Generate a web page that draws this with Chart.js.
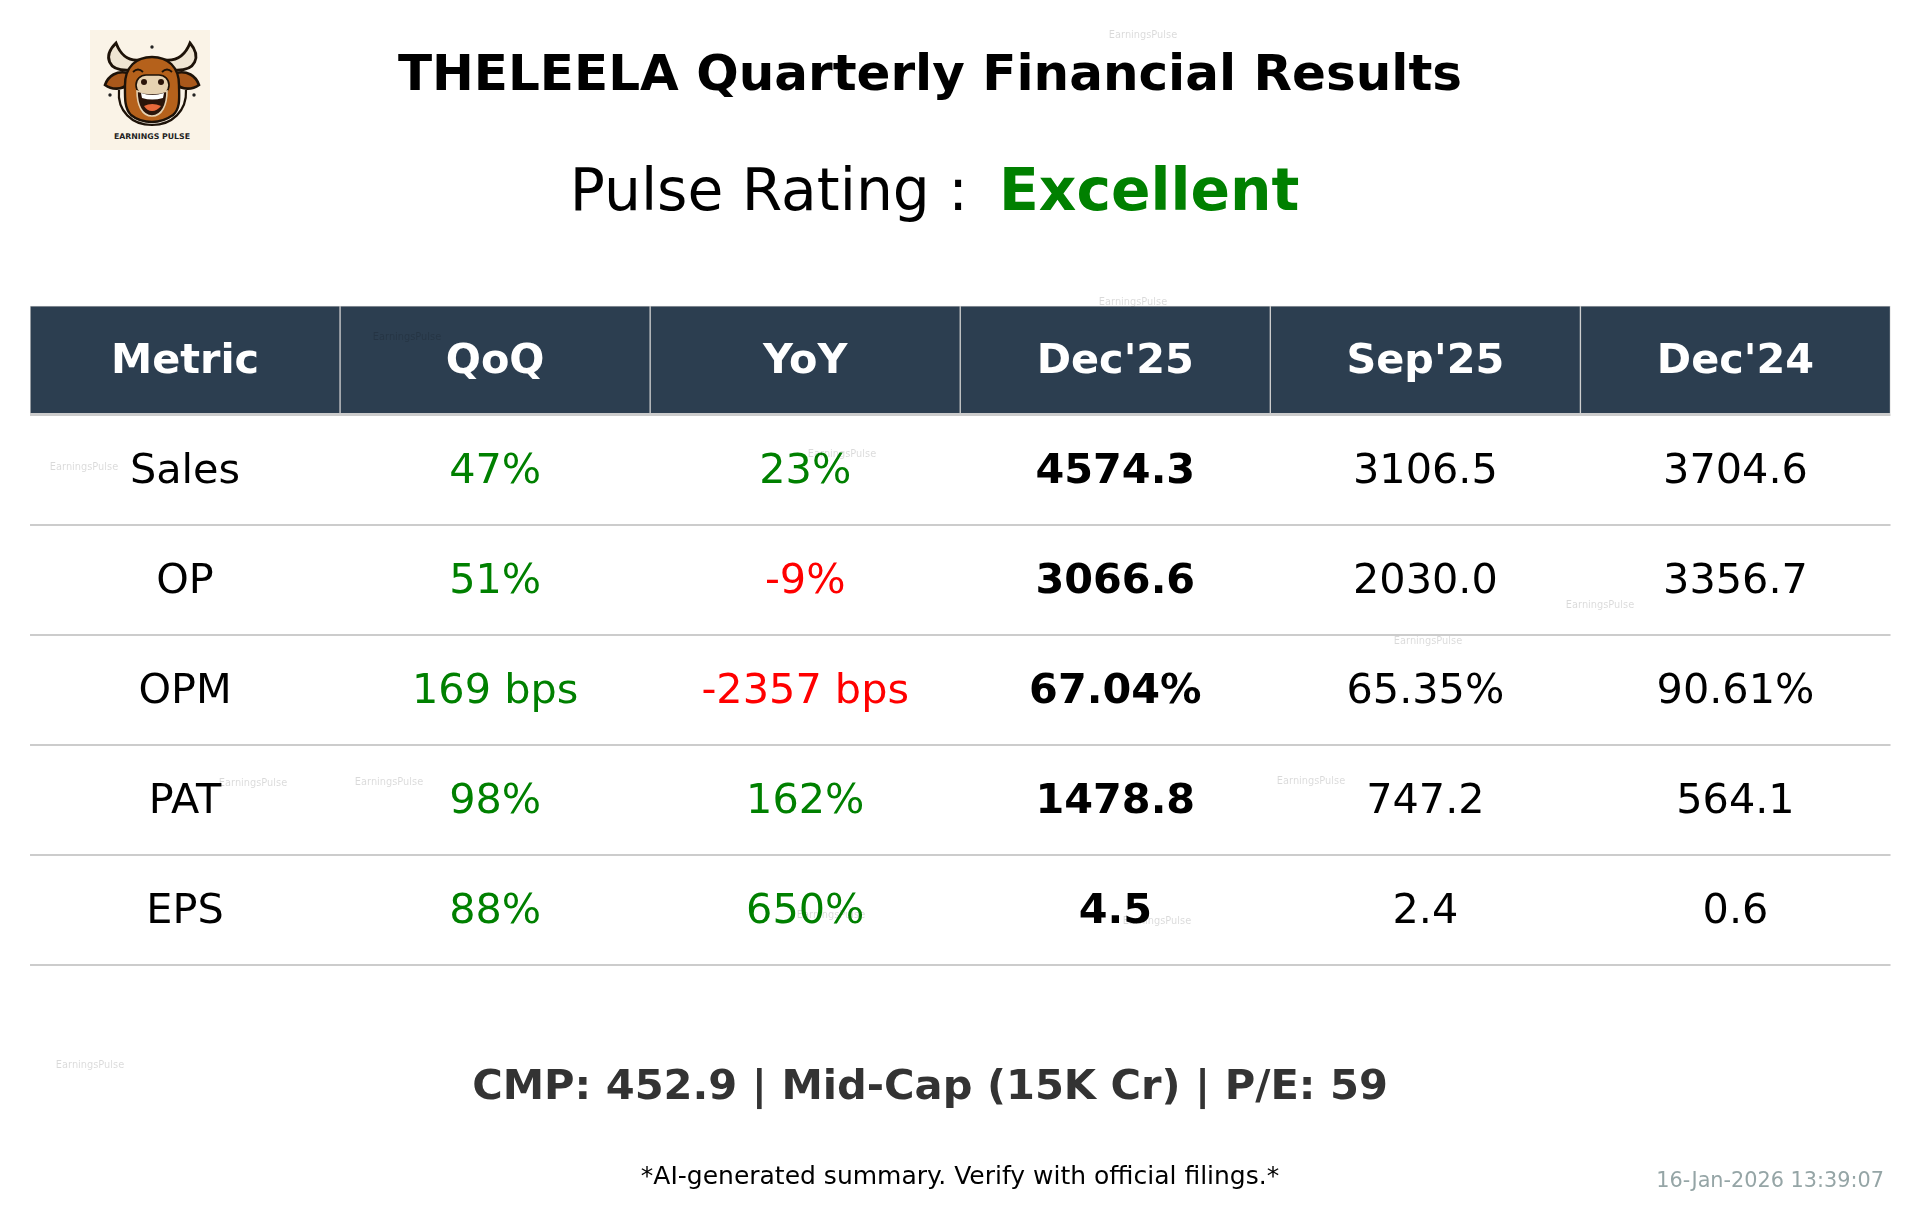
<!DOCTYPE html>
<html lang="en">
<head>
  <meta charset="UTF-8">
  <title>THELEELA Quarterly Financial Results</title>
  <script src="https://cdn.jsdelivr.net/npm/chart.js"></script>
  <style>
    html, body { margin: 0; background: #fff; }
    #wrap { position: relative; width: 1919px; height: 1222px; overflow: hidden; }
    #logo { position: absolute; left: 90px; top: 30px; width: 120px; height: 120px; }
  </style>
</head>
<body>

<div id="wrap">
  <canvas id="tabela" width="1919" height="1222"></canvas>
  <svg id="logo" viewBox="0 0 120 120">
    <rect width="120" height="120" fill="#faf3e7"/>
    <circle cx="62" cy="17" r="1.7" fill="#222"/>
    <circle cx="20" cy="65" r="1.7" fill="#222"/>
    <circle cx="104" cy="65" r="1.7" fill="#222"/>
    <path d="M26 13 C13 26 17 42 41 40 L49 30 C38 31 31 26 26 13Z" fill="#efe5d3" stroke="#1d1208" stroke-width="2.8"/>
    <path d="M100 13 C111 26 107 42 83 40 L75 30 C86 31 95 26 100 13Z" fill="#efe5d3" stroke="#1d1208" stroke-width="2.8"/>
    <path d="M38 43 C27 40 18 46 15 55 C22 60 32 60 38 54Z" fill="#a9581b" stroke="#1d1208" stroke-width="2.6"/>
    <path d="M86 43 C97 40 106 46 109 55 C102 60 92 60 86 54Z" fill="#a9581b" stroke="#1d1208" stroke-width="2.6"/>
    <path d="M29 60 C27 81 42 95 62 95 C82 95 97 81 96 60" fill="none" stroke="#1d1208" stroke-width="2.2"/>
    <path d="M35 55 C35 37 46 27 62 27 C78 27 89 37 89 55 C89 66 91 78 83 85 C76 90 69 92 62 92 C54 92 47 90 41 85 C34 78 35 66 35 55Z" fill="#b5611b" stroke="#1d1208" stroke-width="2.4"/>
    <path d="M43 42 Q48 37 53 42" fill="none" stroke="#1d1208" stroke-width="1.8"/>
    <path d="M72 42 Q77 37 82 42" fill="none" stroke="#1d1208" stroke-width="1.8"/>
    <rect x="46" y="45" width="33" height="20" rx="10" fill="#e6d2b2" stroke="#1d1208" stroke-width="1.6"/>
    <circle cx="54" cy="52" r="3" fill="#2a140a"/>
    <circle cx="71" cy="52" r="3" fill="#2a140a"/>
    <path d="M47 61 Q62 66 77 61 C77 75 72 86 62 86 C52 86 47 75 47 61Z" fill="#2a140a" stroke="#e6d2b2" stroke-width="1.6"/>
    <path d="M51 63 Q62 67 74 63 L73 68 Q62 71 52 68Z" fill="#fff"/>
    <path d="M54 76 Q62 72 71 76 Q67 81 62 81 Q57 81 54 76Z" fill="#e8693a"/>
    <text x="62" y="109" text-anchor="middle" font-family="DejaVu Sans" font-weight="bold" font-size="7.8" fill="#222">EARNINGS PULSE</text>
  </svg>
</div>

<script>
const colunas = ["Metric", "QoQ", "YoY", "Dec'25", "Sep'25", "Dec'24"];
const metricas = ["Sales", "OP", "OPM", "PAT", "EPS"];
const qoq = ["47%", "51%", "169 bps", "98%", "88%"];
const yoy = ["23%", "-9%", "-2357 bps", "162%", "650%"];
const dec25 = ["4574.3", "3066.6", "67.04%", "1478.8", "4.5"];
const sep25 = ["3106.5", "2030.0", "65.35%", "747.2", "2.4"];
const dec24 = ["3704.6", "3356.7", "90.61%", "564.1", "0.6"];

const FONTE = '"DejaVu Sans"';
const VERDE = "#008000";
const VERMELHO = "#ff0000";

// marcas de agua: [centro x, centro y]
const marcas = [
  [1143, 34], [1133, 301], [407, 336], [84, 466], [842, 453], [1600, 604], [1428, 640],
  [253, 782], [389, 781], [1311, 780], [831, 914], [1157, 920], [90, 1064]
];

function escreve(ctx, txt, x, y, fonte, cor, alinh) {
  ctx.font = fonte;
  ctx.fillStyle = cor;
  ctx.textAlign = alinh || "center";
  ctx.fillText(txt, x, y);
}

const textos = {
  id: "textos",
  afterDraw(chart) {
    const ctx = chart.ctx;
    const x = chart.scales.x;
    const y = chart.scales.y;
    ctx.save();
    ctx.textBaseline = "alphabetic";

    // titulo
    escreve(ctx, "THELEELA Quarterly Financial Results", 930, 90, `bold 50px ${FONTE}`, "#000");
    escreve(ctx, "Pulse Rating :", 968, 210, `58.3px ${FONTE}`, "#000", "right");
    escreve(ctx, "Excellent", 999, 210, `bold 58.3px ${FONTE}`, VERDE, "left");

    // cabecalho
    colunas.forEach((c, i) => {
      escreve(ctx, c, x.getPixelForValue(i), 373, `bold 41.4px ${FONTE}`, "#fff");
    });

    // celulas
    const series = [metricas, qoq, yoy, dec25, sep25, dec24];
    series.forEach((serie, c) => {
      serie.forEach((v, r) => {
        let cor = "#000";
        let peso = "";
        if (c === 1 || c === 2) cor = v.startsWith("-") ? VERMELHO : VERDE;
        if (c === 3) peso = "bold ";
        const py = y.getPixelForValue(r + 0.5) + 13;
        escreve(ctx, v, x.getPixelForValue(c), py, `${peso}41.4px ${FONTE}`, cor);
      });
    });

    // rodape
    escreve(ctx, "CMP: 452.9 | Mid-Cap (15K Cr) | P/E: 59", 930, 1099, `bold 41.6px ${FONTE}`, "#333");
    escreve(ctx, "*AI-generated summary. Verify with official filings.*", 960, 1184, `25px ${FONTE}`, "#000");
    escreve(ctx, "16-Jan-2026 13:39:07", 1884, 1187, `20.8px ${FONTE}`, "#95a5a6", "right");

    marcas.forEach(m => {
      escreve(ctx, "EarningsPulse", m[0], m[1] + 4, `9.8px ${FONTE}`, "rgba(0,0,0,0.15)");
    });
    ctx.restore();
  }
};

new Chart(document.getElementById("tabela"), {
  type: "bar",
  data: {
    labels: colunas,
    datasets: [{
      label: "Cabecalho",
      data: colunas.map(() => [-0.99, 0]),
      backgroundColor: "#2c3e50",
      borderColor: "#cccccc",
      borderWidth: 1,
      borderSkipped: false,
      barPercentage: 1,
      categoryPercentage: 1
    }]
  },
  options: {
    responsive: false,
    animation: false,
    devicePixelRatio: 1,
    layout: { padding: { left: 30, right: 28.5, top: 305.8, bottom: 257.3 } },
    plugins: { legend: { display: false }, tooltip: { enabled: false } },
    scales: {
      x: { display: false },
      y: {
        reverse: true,
        min: -0.99,
        max: 5,
        border: { display: false },
        ticks: { display: false, stepSize: 1 },
        grid: {
          z: 1,
          drawTicks: false,
          lineWidth: 2,
          color: c => (c.tick.value < 0 ? "transparent" : "#cccccc")
        }
      }
    }
  },
  plugins: [textos]
});
</script>

</body>
</html>
